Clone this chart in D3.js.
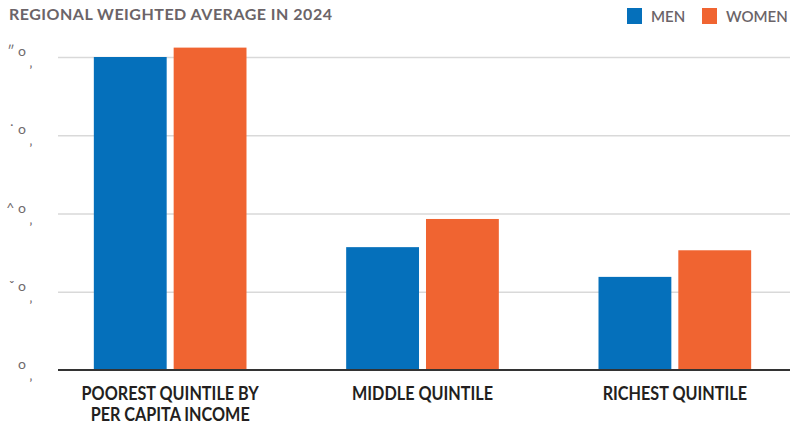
<!DOCTYPE html>
<html><head><meta charset="utf-8">
<script src="https://cdn.jsdelivr.net/npm/d3@7"></script>
<style>
body{margin:0;background:#fff;}
svg{display:block;}
</style></head>
<body>
<svg id="chart" width="790" height="426"></svg>
<script>
const categories = ["POOREST QUINTILE BY|PER CAPITA INCOME", "MIDDLE QUINTILE", "RICHEST QUINTILE"];
const seriesNames = ["MEN", "WOMEN"];
const men = [40.0, 15.7, 11.9];
const women = [41.2, 19.3, 15.3];
const tickValues = [0, 10, 20, 30, 40];
const tickLabels = ["o", "ˇ o", "^ o", "˙ o", "″ o"];
const colors = ["#0570bb", "#f06431"];
const title = "REGIONAL WEIGHTED AVERAGE IN 2024";

const svg = d3.select("#chart");
const y = d3.scaleLinear().domain([0, 40]).range([370, 57]);
const x0 = d3.scaleBand().domain(categories).range([44, 801]).paddingInner(0.395).paddingOuter(0.1975);
const x1 = d3.scaleBand().domain(seriesNames).range([0, x0.bandwidth()]).paddingInner(0.0875).paddingOuter(0);
const color = d3.scaleOrdinal().domain(seriesNames).range(colors);

// gridlines
const grid = svg.append("g").attr("transform", "translate(58,0)")
  .call(d3.axisLeft(y).tickValues(tickValues.filter(d => d > 0)).tickSize(-732).tickFormat(""));
grid.select(".domain").remove();
grid.selectAll(".tick line").attr("stroke", "#d9d9d9").attr("stroke-width", 1.5);

// tick labels
const tl = svg.append("g");
tickValues.forEach((v, i) => {
  tl.append("text").attr("x", 26).attr("y", y(v) - 1).attr("text-anchor", "end")
    .attr("font-family", "Lato, sans-serif").attr("font-size", 14).attr("fill", "#6f6a6c")
    .text(tickLabels[i]);
  tl.append("text").attr("x", 31).attr("y", y(v) + 10).attr("text-anchor", "middle")
    .attr("font-family", "Lato, sans-serif").attr("font-weight", "bold").attr("font-size", 11).attr("fill", "#6f6a6c")
    .text("‚");
});

// bars
const data = categories.map((c, i) => ({cat: c, vals: [{k: "MEN", v: men[i]}, {k: "WOMEN", v: women[i]}]}));
const groups = svg.append("g").selectAll("g").data(data).join("g")
  .attr("transform", d => `translate(${x0(d.cat)},0)`);
groups.selectAll("rect").data(d => d.vals).join("rect")
  .attr("x", d => x1(d.k)).attr("width", x1.bandwidth())
  .attr("y", d => y(d.v)).attr("height", d => y(0) - y(d.v))
  .attr("fill", d => color(d.k));

// baseline
svg.append("line").attr("x1", 58).attr("x2", 790).attr("y1", y(0)).attr("y2", y(0))
  .attr("stroke", "#333").attr("stroke-width", 2);

// category labels (narrowed to mimic the condensed face)
const xl = svg.append("g");
categories.forEach(c => {
  const lines = c.split("|");
  const cx = x0(c) + x0.bandwidth() / 2;
  const t = xl.append("text").attr("transform", `translate(${cx},400) scale(0.9,1)`)
    .attr("text-anchor", "middle").attr("font-family", "Lato, sans-serif")
    .attr("font-weight", "bold").attr("font-size", 18).attr("fill", "#231f20");
  lines.forEach((l, j) => t.append("tspan").attr("x", 0).attr("dy", j === 0 ? 0 : 21).text(l));
});

// title
svg.append("text").attr("x", 9).attr("y", 20).attr("font-family", "Lato, sans-serif")
  .attr("font-weight", "bold").attr("font-size", 16).attr("letter-spacing", 0.5)
  .attr("fill", "#6b6468").text(title);

// legend
const legendX = [627, 702];
seriesNames.forEach((s, i) => {
  svg.append("rect").attr("x", legendX[i]).attr("y", 8).attr("width", 15).attr("height", 16).attr("fill", color(s));
  svg.append("text").attr("x", legendX[i] + 24).attr("y", 22).attr("font-family", "Lato, sans-serif")
    .attr("font-weight", 600).attr("font-size", 15).attr("fill", "#6b6468").text(s);
});
</script>
</body></html>
